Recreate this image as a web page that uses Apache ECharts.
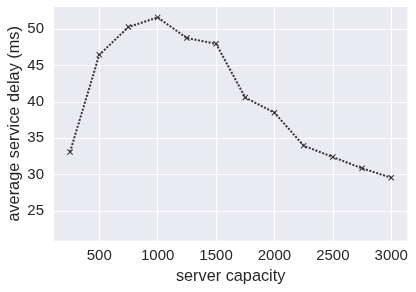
<!DOCTYPE html>
<html><head><meta charset="utf-8">
<script src="https://cdn.jsdelivr.net/npm/echarts@6/dist/echarts.min.js"></script>
<style>html,body{margin:0;padding:0;background:#fff}#c{width:416px;height:292px}</style>
</head><body><div id="c"></div>
<script>
const capacity = [250, 500, 750, 1000, 1250, 1500, 1750, 2000, 2250, 2500, 2750, 3000];
const delay = [33.1, 46.45, 50.28, 51.6, 48.76, 47.97, 40.58, 38.5, 33.97, 32.4, 30.85, 29.56];
const xTicks = [500, 1000, 1500, 2000, 2500, 3000];
const yTicks = [25, 30, 35, 40, 45, 50];

const chart = echarts.init(document.getElementById('c'), null, {renderer: 'canvas'});
const font = 'Liberation Sans, Arial, sans-serif';
const xMark = 'path://M0,1.2L1.2,0L5,3.8L8.8,0L10,1.2L6.2,5L10,8.8L8.8,10L5,6.2L1.2,10L0,8.8L3.8,5Z';
chart.setOption({
  animation: false,
  backgroundColor: '#ffffff',
  grid: {left: 54, right: 8.7, top: 7, bottom: 51.3, show: true, backgroundColor: '#EAEAF2', borderWidth: 0, containLabel: false, outerBoundsMode: 'none'},
  xAxis: {
    type: 'value', min: 112.5, max: 3137.5,
    name: 'server capacity', nameLocation: 'middle', nameGap: 28, nameMoveOverlap: false,
    nameTextStyle: {fontFamily: font, fontSize: 16.3, color: '#262626'},
    axisLine: {show: false},
    axisTick: {show: false, customValues: xTicks},
    axisLabel: {customValues: xTicks, formatter: v => String(v), fontFamily: font, fontSize: 15, color: '#262626', margin: 8},
    splitLine: {show: true, lineStyle: {color: '#ffffff', width: 1.2}}
  },
  yAxis: {
    type: 'value', min: 20.9, max: 53.03,
    name: 'average service delay (ms)', nameLocation: 'middle', nameGap: 31, nameMoveOverlap: false,
    nameTextStyle: {fontFamily: font, fontSize: 16.3, color: '#262626'},
    axisLine: {show: false},
    axisTick: {show: false, customValues: yTicks},
    axisLabel: {customValues: yTicks, formatter: v => String(v), fontFamily: font, fontSize: 15, color: '#262626', margin: 10},
    splitLine: {show: true, lineStyle: {color: '#ffffff', width: 1.2}}
  },
  series: [{
    type: 'line',
    data: capacity.map((c, i) => [c, delay[i]]),
    symbol: xMark, symbolSize: 6, showSymbol: true,
    itemStyle: {color: '#2e2e2e', borderWidth: 0},
    lineStyle: {color: '#333333', width: 2, type: [2, 1.6]},
    emphasis: {disabled: true}
  }]
});
</script></body></html>
